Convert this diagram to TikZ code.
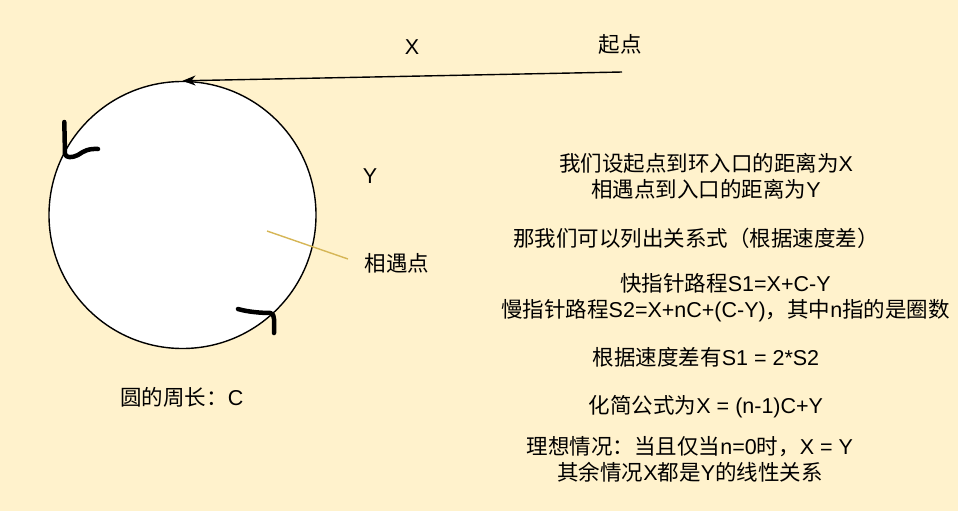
\documentclass[tikz,border=0pt]{standalone}
\usepackage{fontspec}
\setmainfont{Liberation Sans}
\newfontfamily\cjk{Noto Sans CJK SC}
\newcommand{\zh}[1]{{\cjk #1}}
\usetikzlibrary{arrows.meta}
\definecolor{paper}{HTML}{FFF2CC}
\definecolor{tanline}{HTML}{D6B656}

\begin{document}
\begin{tikzpicture}[x=1pt, y=-1pt,
    txt/.style={inner sep=0pt, align=center, font=\fontsize{21.5}{26}\selectfont},
    pen/.style={line width=4.5pt, line cap=round, line join=round}]
    \fill[paper] (0, 0) rectangle (958, 511);
    \useasboundingbox (0, 0) rectangle (958, 511);

    \node[circle, draw, line width=1.4pt, fill=white, minimum size=267pt, inner sep=0pt] (ring) at (182.5, 215) {};
    \coordinate (start) at (622, 72);
    \draw[line width=1.4pt, -{Stealth[length=13pt, width=10pt, inset=4pt]}] (start) -- (ring.north);

    \node[txt] (xlab) at (412, 47) {X};
    \node[txt] (startlab) at (620, 44) {\zh{起点}};
    \node[txt] (ylab) at (370, 176) {Y};
    \node[txt] (meetlab) at (397, 263) {\zh{相遇点}};
    \node[txt] (perim) at (182, 397) {\zh{圆的周长：}C};

    \coordinate (meet) at (267, 231);
    \coordinate (meetend) at (348, 259);
    \draw[tanline, line width=1.4pt] (meet) -- (meetend);

    % hand drawn ticks on the ring
    \draw[pen] (64.3, 122) -- (65, 154) .. controls (66, 158) and (72, 158) .. (78, 155)
        .. controls (84, 151) and (88, 148.5) .. (98, 149);
    \draw[pen] (238, 309) .. controls (248, 312) and (262, 313) .. (270.5, 313)
        .. controls (273, 313.5) and (274, 316) .. (274, 319) -- (274, 333);

    % text on the right
    \node[txt] (setup) at (706, 176.5) {\zh{我们设起点到环入口的距离为}X\\\zh{相遇点到入口的距离为}Y};
    \node[txt] (rel) at (696, 238) {\zh{那我们可以列出关系式（根据速度差）}};
    \node[txt] (paths) at (725.5, 297.5) {\zh{快指针路程}S1=X+C-Y\\\zh{慢指针路程}S2=X+nC+(C-Y)\zh{，其中}n\zh{指的是圈数}};
    \node[txt] (speed) at (706, 357) {\zh{根据速度差有}S1 = 2*S2};
    \node[txt] (simp) at (706, 407) {\zh{化简公式为}X = (n-1)C+Y};
    \node[txt] (ideal) at (690, 459) {\zh{理想情况：当且仅当}n=0\zh{时，}X = Y\\\zh{其余情况}X\zh{都是}Y\zh{的线性关系}};
\end{tikzpicture}
\end{document}
